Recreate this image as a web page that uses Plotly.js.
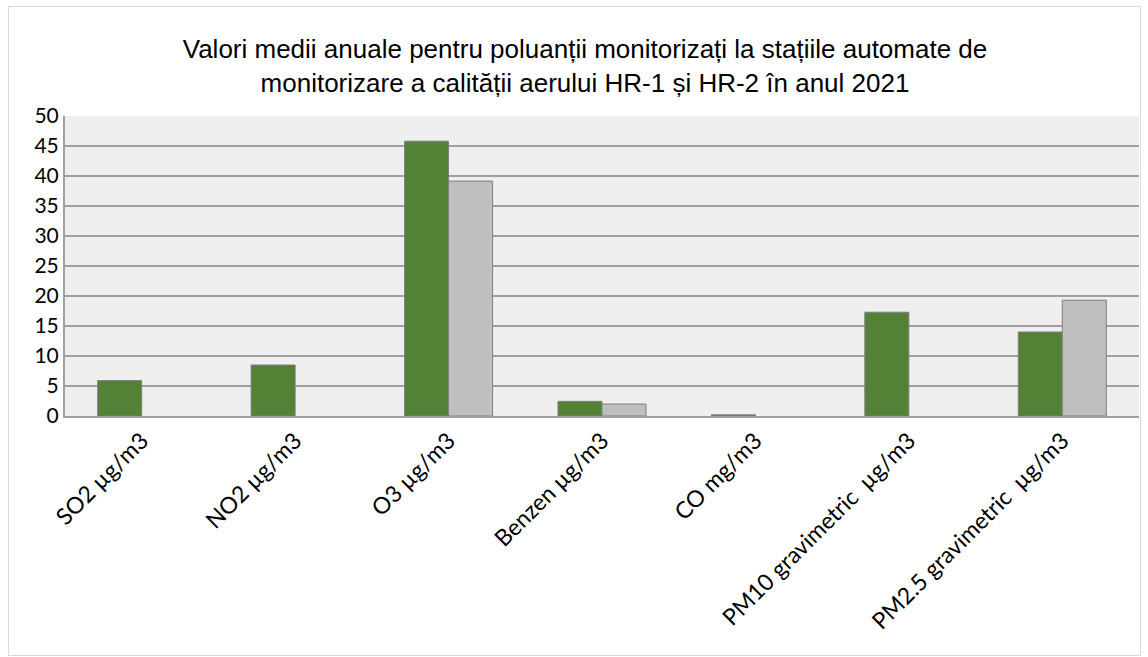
<!DOCTYPE html>
<html><head><meta charset="utf-8">
<script src="https://cdn.plot.ly/plotly-3.0.1.min.js"></script>
<style>
html,body{margin:0;padding:0;background:#fff;}
#frame{position:absolute;left:8px;top:6px;width:1131px;height:648px;border:1px solid #d9d9d9;}
#chart{position:absolute;left:0;top:0;width:1148px;height:657px;}
</style></head>
<body>
<div id="frame"></div>
<div id="chart"></div>
<script>
const categories = ["SO2 µg/m3","NO2 µg/m3","O3 µg/m3","Benzen µg/m3","CO mg/m3","PM10 gravimetric\u00a0 µg/m3","PM2.5 gravimetric\u00a0 µg/m3"];
const hr1 = [5.9, 8.5, 45.8, 2.45, 0.2, 17.3, 14.0];
const hr2 = [null, null, 39.15, 2.0, null, null, 19.3];
const seriesNames = ["HR-1","HR-2"];
const yTicks = [0,5,10,15,20,25,30,35,40,45,50];

const traces = [
  {type:'bar', name:seriesNames[0], x:categories, y:hr1,
   marker:{color:'#538135', line:{color:'#7f7f7f', width:1}}},
  {type:'bar', name:seriesNames[1], x:categories, y:hr2,
   marker:{color:'#bfbfbf', line:{color:'#7f7f7f', width:1}}}
];
const layout = {
  width:1148, height:657,
  paper_bgcolor:'rgba(0,0,0,0)', plot_bgcolor:'#efefef',
  margin:{l:65, r:9, t:116, b:241},
  showlegend:false,
  barmode:'group', bargap:0.426, bargroupgap:0,
  title:{text:"Valori medii anuale pentru poluanții monitorizați la stațiile automate de<br>monitorizare a calității aerului HR-1 și HR-2 în anul 2021",
    x:585/1148, xanchor:'center', xref:'container', y:0.911, yanchor:'top',
    font:{family:'Liberation Sans, Arial, sans-serif', size:26, color:'#000'}},
  xaxis:{tickangle:-45, tickfont:{family:'Lato, Open Sans, sans-serif', size:23, color:'#000'},
    showline:true, linecolor:'#a0a0a0', linewidth:2, ticks:'', fixedrange:true, mirror:false},
  yaxis:{range:[0,50], tickvals:yTicks, showgrid:true, gridcolor:'#a0a0a0', gridwidth:2,
    showline:true, linecolor:'#a0a0a0', linewidth:2, ticks:'',
    tickfont:{family:'Lato, Open Sans, sans-serif', size:21, color:'#000'}, zeroline:false}
};
Plotly.newPlot('chart', traces, layout, {displayModeBar:false, staticPlot:true});
</script>
</body></html>
